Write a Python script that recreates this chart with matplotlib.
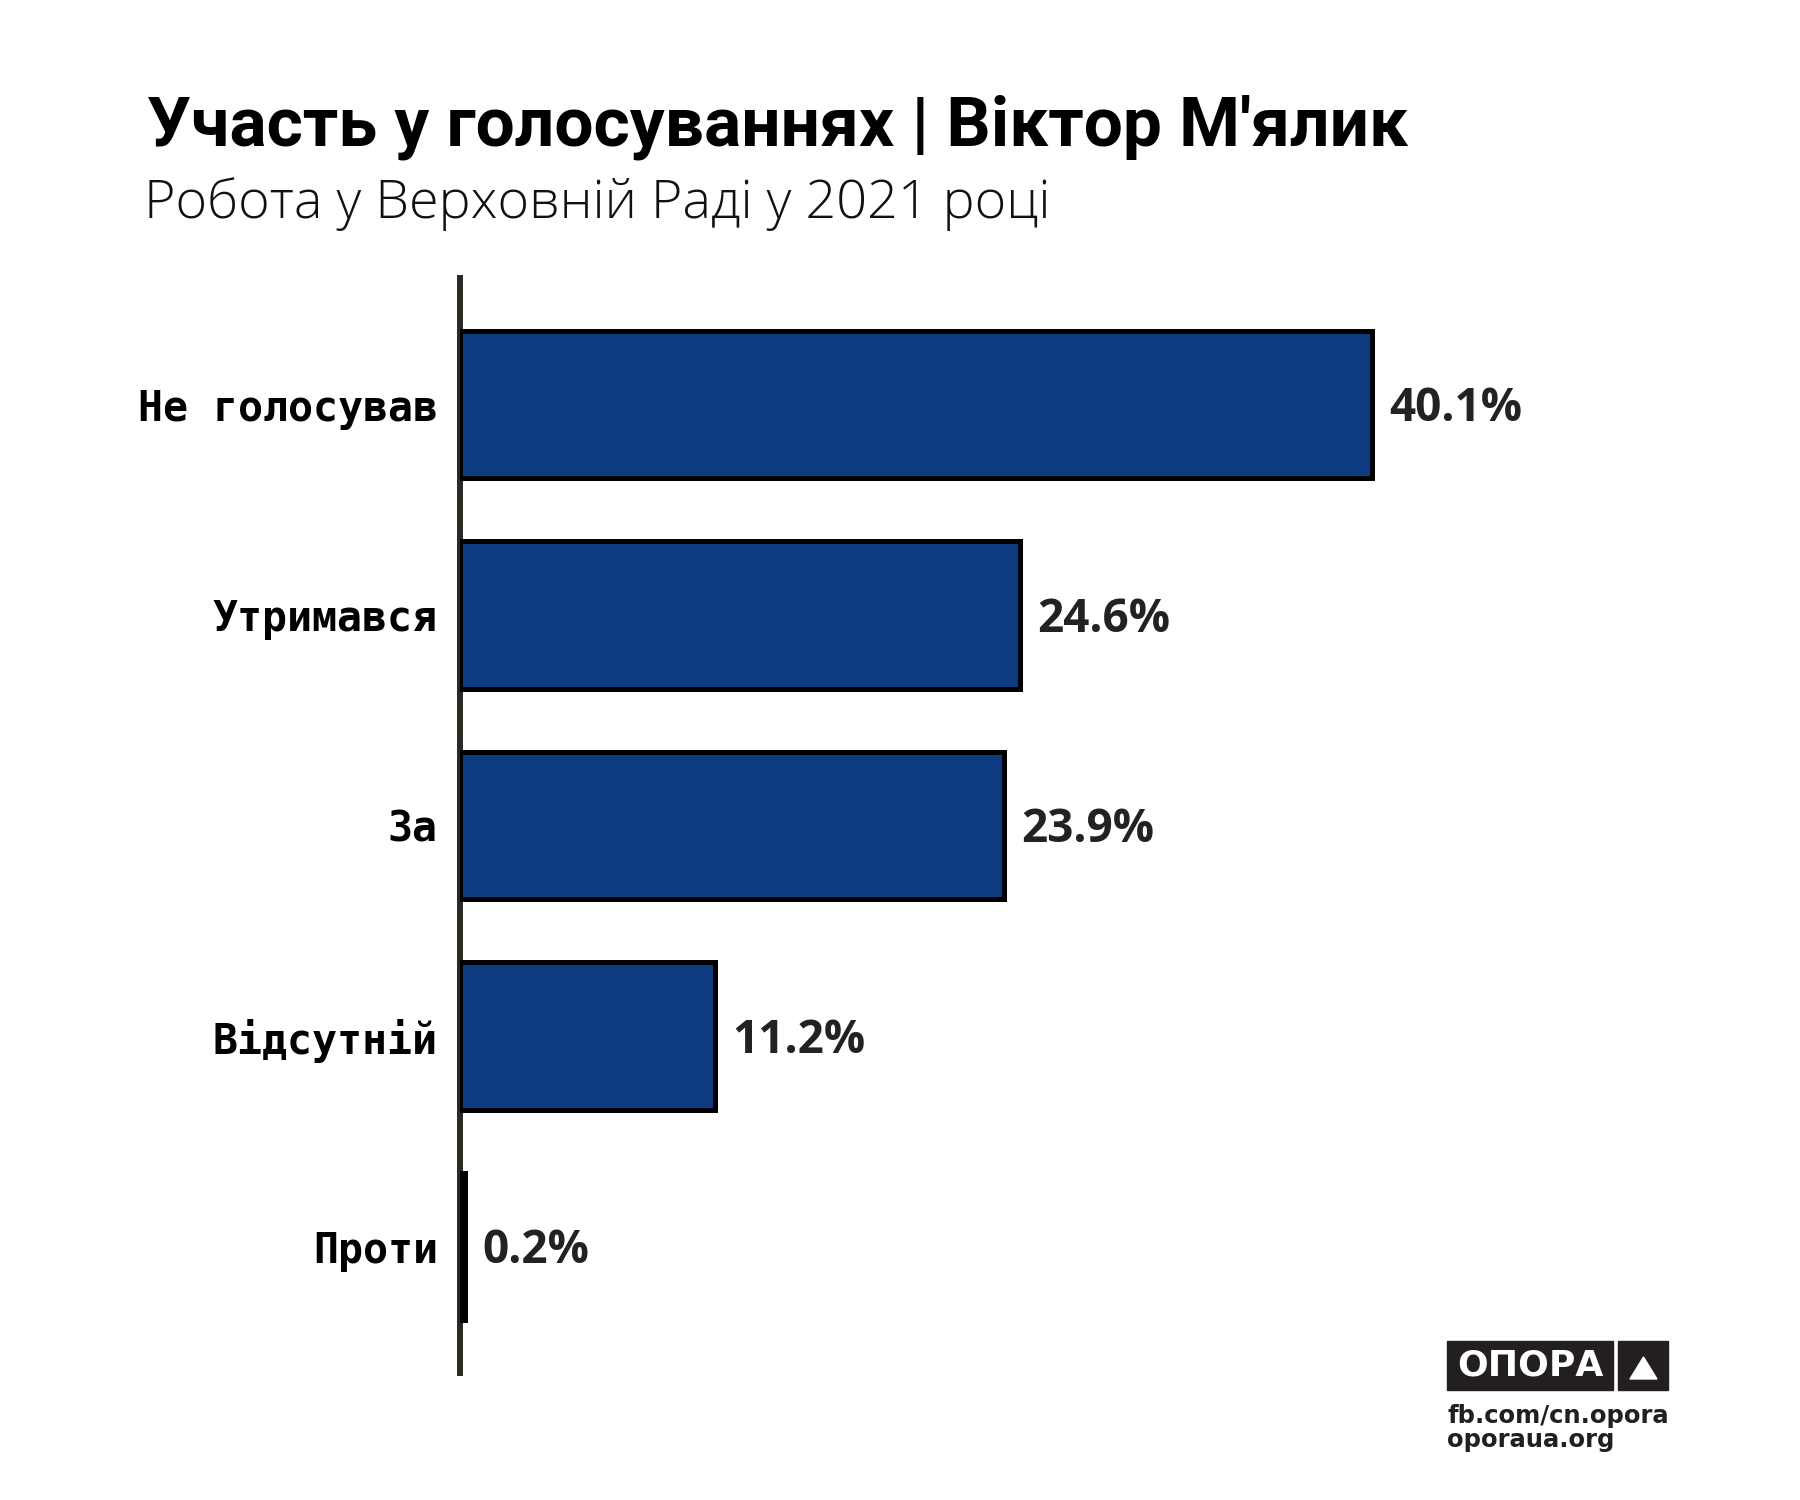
import matplotlib
matplotlib.use("Agg")
import matplotlib.pyplot as plt
from matplotlib.patches import Rectangle, Polygon

categories = ["Не голосував", "Утримався", "За", "Відсутній", "Проти"]
values = [40.1, 24.6, 23.9, 11.2, 0.2]
value_labels = ["40.1%", "24.6%", "23.9%", "11.2%", "0.2%"]

title = "Участь у голосуваннях | Віктор М'ялик"
subtitle = "Робота у Верховній Раді у 2021 році"

W, H = 1800, 1500
fig = plt.figure(figsize=(W / 100, H / 100), dpi=100)
fig.patch.set_facecolor("white")

# axes box in pixels: left 460, right 1700, top 278, bottom 1373
ax = fig.add_axes([460 / W, (H - 1373) / H, 1240 / W, (1373 - 278) / H])

y = list(range(len(categories)))
ax.barh(y, values, height=0.70, color="#0c3b80", edgecolor="black",
        linewidth=3.6, zorder=2)

for yi, v, lab in zip(y, values, value_labels):
    ax.annotate(lab, (v, yi), xytext=(12.5, -3), textcoords="offset points",
                ha="left", va="center", fontsize=33, fontweight="bold",
                family=["Open Sans", "DejaVu Sans"], color="#222222")

ax.set_xlim(0, 54.5)
ax.set_ylim(len(categories) - 1 + 0.6, -0.6)
ax.set_yticks(y)
ax.set_yticklabels(categories, fontsize=30, fontweight="bold",
                   family=["DejaVu Sans Mono"], color="black")
ax.tick_params(axis="y", length=0, pad=16)
ax.set_xticks([])
for s in ["top", "right", "bottom"]:
    ax.spines[s].set_visible(False)
ax.spines["left"].set_linewidth(4.3)
ax.spines["left"].set_color("#2a2a25")
ax.spines["left"].set_zorder(1)

fig.text(147 / W, (H - 145) / H, title, fontsize=50, fontweight="bold",
         family=["Roboto", "DejaVu Sans"],
         ha="left", va="baseline", color="black")
fig.text(144 / W, (H - 218) / H, subtitle, fontsize=38.8, fontweight="light",
         family=["Open Sans", "DejaVu Sans"],
         ha="left", va="baseline", color="#111111")

# logo
fig.patches.append(Rectangle((1447 / W, (H - 1390) / H), 166 / W, 49 / H,
                             transform=fig.transFigure, color="#231f20"))
fig.patches.append(Rectangle((1618 / W, (H - 1390) / H), 50 / W, 49 / H,
                             transform=fig.transFigure, color="#231f20"))
fig.patches.append(Polygon([(1630 / W, (H - 1379) / H), (1657 / W, (H - 1379) / H),
                            (1643.5 / W, (H - 1357) / H)], closed=True,
                           transform=fig.transFigure, color="white"))
fig.text(1530 / W, (H - 1365.5) / H, "ОПОРА", fontsize=26, fontweight="bold",
         family=["DejaVu Sans"], ha="center", va="center", color="white")
fig.text(1447 / W, (H - 1423) / H, "fb.com/cn.opora", fontsize=17.5,
         fontweight="bold", family=["DejaVu Sans"], ha="left",
         va="baseline", color="#231f20")
fig.text(1447 / W, (H - 1447) / H, "oporaua.org", fontsize=17.5,
         fontweight="bold", family=["DejaVu Sans"], ha="left",
         va="baseline", color="#231f20")

fig.savefig("out.png", dpi=100, facecolor="white")
